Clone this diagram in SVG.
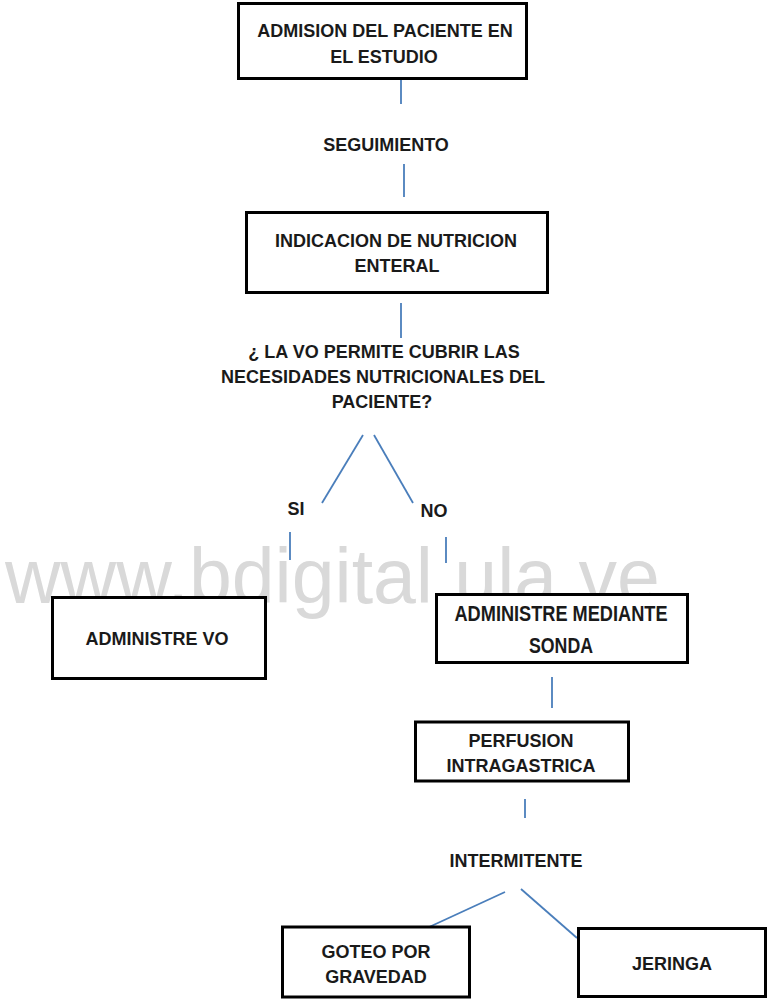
<svg xmlns="http://www.w3.org/2000/svg" width="768" height="999" viewBox="0 0 768 999">
<style>
.bx{fill:#fff;stroke:#000;stroke-width:3}
.t{font-family:"Liberation Sans",Arial,sans-serif;font-weight:bold;font-size:18px;fill:#1a1a1a;text-anchor:middle}
.c{stroke:#4a7ebb;stroke-width:1.8;fill:none}
.wm{font-family:"Liberation Sans",Arial,sans-serif;font-size:77px;fill:#d9d9d9}
</style>
<rect width="768" height="999" fill="#fff"/>
<text class="wm" x="5" y="603">www.bdigital.ula.ve</text>
<g id="connectors">
<line class="c" x1="401" y1="80" x2="401" y2="104"/>
<line class="c" x1="404" y1="164" x2="404" y2="197"/>
<line class="c" x1="401" y1="303" x2="401" y2="338"/>
<line class="c" x1="363" y1="435" x2="322" y2="503"/>
<line class="c" x1="374" y1="435" x2="413" y2="503"/>
<line class="c" x1="290" y1="532" x2="290" y2="560"/>
<line class="c" x1="446" y1="537" x2="446" y2="563"/>
<line class="c" x1="552" y1="677" x2="552" y2="708"/>
<line class="c" x1="525" y1="799" x2="525" y2="818"/>
<line class="c" x1="505" y1="892" x2="427" y2="928"/>
<line class="c" x1="521" y1="889" x2="577" y2="938"/>
</g>
<g id="admision">
<rect class="bx" x="238.5" y="3.5" width="288" height="75"/>
<text class="t" x="385" y="37">ADMISION DEL PACIENTE EN</text>
<text class="t" x="384" y="63">EL ESTUDIO</text>
</g>
<g id="seguimiento">
<text class="t" x="386" y="151">SEGUIMIENTO</text>
</g>
<g id="indicacion">
<rect class="bx" x="246.5" y="212.5" width="301" height="80"/>
<text class="t" x="396" y="247">INDICACION DE NUTRICION</text>
<text class="t" x="397" y="272">ENTERAL</text>
</g>
<g id="pregunta">
<text class="t" x="384" y="358">¿ LA VO PERMITE CUBRIR LAS</text>
<text class="t" x="383" y="383">NECESIDADES NUTRICIONALES DEL</text>
<text class="t" x="382" y="408">PACIENTE?</text>
</g>
<g id="si"><text class="t" x="296" y="515">SI</text></g>
<g id="no"><text class="t" x="434" y="517">NO</text></g>
<g id="administre-vo">
<rect class="bx" x="52.5" y="597.5" width="213" height="81"/>
<text class="t" x="157" y="645">ADMINISTRE VO</text>
</g>
<g id="administre-sonda">
<rect class="bx" x="436.5" y="594.5" width="251" height="68"/>
<text class="t" x="561" y="621" style="font-size:22px" textLength="213" lengthAdjust="spacingAndGlyphs">ADMINISTRE MEDIANTE</text>
<text class="t" x="561" y="653" style="font-size:22px" textLength="64" lengthAdjust="spacingAndGlyphs">SONDA</text>
</g>
<g id="perfusion">
<rect class="bx" x="415.5" y="722" width="213" height="59"/>
<text class="t" x="521" y="747">PERFUSION</text>
<text class="t" x="521" y="772">INTRAGASTRICA</text>
</g>
<g id="intermitente">
<text class="t" x="516" y="867">INTERMITENTE</text>
</g>
<g id="goteo">
<rect class="bx" x="282.5" y="927" width="187" height="70"/>
<text class="t" x="376" y="958">GOTEO POR</text>
<text class="t" x="376" y="983">GRAVEDAD</text>
</g>
<g id="jeringa">
<rect class="bx" x="578.5" y="928.5" width="187" height="68"/>
<text class="t" x="672" y="970">JERINGA</text>
</g>
</svg>
